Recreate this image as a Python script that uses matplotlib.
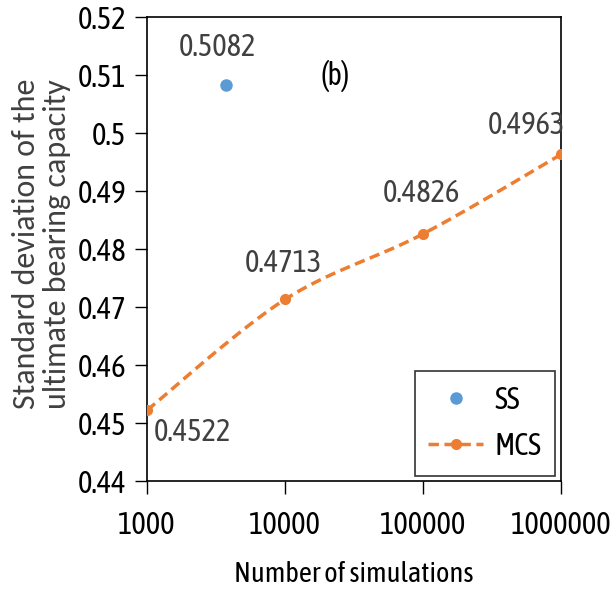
import numpy as np
import matplotlib
matplotlib.use("Agg")
import matplotlib.pyplot as plt
from matplotlib import font_manager

# data
mcs_n = [1000, 10000, 100000, 1000000]
mcs_sd = [0.4522, 0.4713, 0.4826, 0.4963]
ss_n = [3750]
ss_sd = [0.5082]

names = {f.name for f in font_manager.fontManager.ttflist}
for cand in ["Asap Condensed", "Barlow Semi Condensed", "Archivo Narrow", "Carlito", "DejaVu Sans"]:
    if cand in names:
        plt.rcParams["font.family"] = cand
        break
ylab_font = "Carlito" if "Carlito" in names else plt.rcParams["font.family"]

ORANGE = "#ED7D31"
BLUE = "#5B9BD5"
TXT = "#404040"
FS = 22
WT = "normal"


def smooth_curve(x, y, n=40):
    """Excel-style smoothed line (Catmull-Rom bezier) in log-x space."""
    lx = np.log10(x)
    y = np.asarray(y, dtype=float)
    px = np.concatenate([[lx[0]], lx, [lx[-1]]])
    py = np.concatenate([[y[0]], y, [y[-1]]])
    xs, ys = [], []
    t = np.linspace(0, 1, n)
    for i in range(1, len(px) - 2):
        p0 = np.array([px[i], py[i]])
        p3 = np.array([px[i + 1], py[i + 1]])
        c1 = p0 + (np.array([px[i + 1], py[i + 1]]) - np.array([px[i - 1], py[i - 1]])) / 6
        c2 = p3 - (np.array([px[i + 2], py[i + 2]]) - np.array([px[i], py[i]])) / 6
        b = ((1 - t) ** 3)[:, None] * p0 + (3 * (1 - t) ** 2 * t)[:, None] * c1 \
            + (3 * (1 - t) * t ** 2)[:, None] * c2 + (t ** 3)[:, None] * p3
        xs.extend(b[:, 0])
        ys.extend(b[:, 1])
    return 10 ** np.array(xs), np.array(ys)


fig = plt.figure(figsize=(6.16, 5.95), dpi=100)
ax = fig.add_axes([0.2386, 0.1916, 0.6721, 0.7798])

ax.plot(ss_n, ss_sd, "o", color=BLUE, markersize=8, label="SS", zorder=3)
sx, sy = smooth_curve(mcs_n, mcs_sd)
ax.plot(sx, sy, "--", color=ORANGE, linewidth=2.5, dashes=(3, 1.6), zorder=2)
ax.plot(mcs_n, mcs_sd, "o", color=ORANGE, markersize=7, zorder=3)
# legend proxy
ax.plot([], [], "--", color=ORANGE, linewidth=2.5, dashes=(3, 1.6), marker="o",
        markersize=7, label="MCS")

ax.set_xscale("log")
ax.set_xlim(1000, 1000000)
ax.set_ylim(0.44, 0.52)
ax.set_xticks(mcs_n)
ax.set_xticklabels([str(v) for v in mcs_n])
ax.minorticks_off()
ax.set_yticks(np.arange(0.44, 0.5201, 0.01))
ax.set_yticklabels(["0.44", "0.45", "0.46", "0.47", "0.48", "0.49", "0.5", "0.51", "0.52"])
ax.tick_params(axis="both", labelsize=FS, length=9, width=1, direction="out",
               labelcolor="black", pad=6)
ax.tick_params(axis="x", pad=12)
for s in ax.spines.values():
    s.set_linewidth(1.2)
    s.set_color("black")

ax.set_xlabel("Number of simulations", fontsize=20.5, labelpad=14)
ax.set_ylabel("Standard deviation of the\nultimate bearing capacity", fontsize=23,
              family=ylab_font, color=TXT, linespacing=1.15, va="center")
ax.yaxis.set_label_coords(-0.255, 0.511)

# value labels
ax.annotate(f"{ss_sd[0]:.4f}", (ss_n[0], ss_sd[0]), xytext=(-6, 27), textcoords="offset points",
            ha="center", va="center", fontsize=FS, color=TXT)
offsets = [(33, -16), (-1, 26), (-1, 29), (-25, 21)]
for n, v, off in zip(mcs_n, mcs_sd, offsets):
    ax.annotate(f"{v:.4f}", (n, v), xytext=off, textcoords="offset points",
                ha="center", va="center", fontsize=FS, color=TXT)

ax.text(0.455, 0.873, "(b)", transform=ax.transAxes, fontsize=FS,
        ha="center", va="center")

leg = ax.legend(loc="lower right", bbox_to_anchor=(0.985, 0.011),
                prop={"size": FS, "weight": WT}, frameon=True,
                fancybox=False, edgecolor="black", handlelength=1.8, borderpad=0.45,
                labelspacing=0.5, handletextpad=0.35, borderaxespad=0)
leg.get_frame().set_linewidth(1.2)

fig.savefig("out.png", dpi=100)
